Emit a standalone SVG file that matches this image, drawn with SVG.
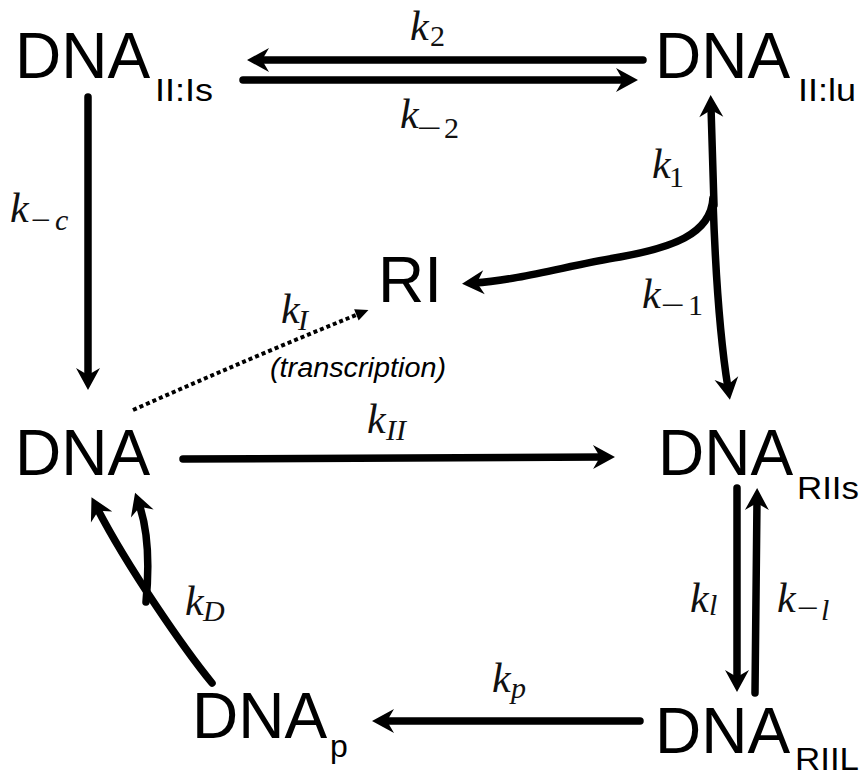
<svg xmlns="http://www.w3.org/2000/svg" width="862" height="777" viewBox="0 0 862 777">
<style>
.big{font-family:"Liberation Sans",Arial,sans-serif;font-size:64px;fill:#000}
.sub{font-family:"Liberation Sans",Arial,sans-serif;font-size:32px;fill:#000}
.k{font-family:"Liberation Serif","Times New Roman",serif;font-style:italic;font-size:42px;fill:#111}
.ks{font-family:"Liberation Serif","Times New Roman",serif;font-style:italic;font-size:30px;fill:#111}
.kn{font-family:"Liberation Serif","Times New Roman",serif;font-size:30px;fill:#111}
.ln{fill:none;stroke:#000;stroke-width:7.5;stroke-linecap:round}
.dot{fill:none;stroke:#000;stroke-width:4;stroke-dasharray:4 3}
.note{font-family:"Liberation Sans",Arial,sans-serif;font-style:italic;font-size:27px;fill:#000}
</style>
<defs>
<marker id="ah" markerUnits="userSpaceOnUse" viewBox="-12 -13 26 26" markerWidth="26" markerHeight="26" refX="0" refY="0" orient="auto"><path d="M12,0 L-10,-12 L-3,0 L-10,12 Z" fill="#000"/></marker>
<marker id="ahs" markerUnits="userSpaceOnUse" viewBox="-8 -8 16 16" markerWidth="16" markerHeight="16" refX="0" refY="0" orient="auto"><path d="M8,0 L-5,-6 L-5,6 Z" fill="#000"/></marker>
</defs>
<g id="connectors">
<path class="ln" d="M643 60 L259 60" marker-end="url(#ah)"/>
<path class="ln" d="M243 80 L626 80" marker-end="url(#ah)"/>
<path class="ln" d="M88 97 L88 378" marker-end="url(#ah)"/>
<path class="ln" d="M183 459 L603 457" marker-end="url(#ah)"/>
<path class="ln" d="M640 721 L384 721" marker-end="url(#ah)"/>
<path class="ln" d="M737 488 L737 680" marker-end="url(#ah)"/>
<path class="ln" d="M755 693 L757 500" marker-end="url(#ah)"/>
<path class="ln" d="M714 205 L711 107" marker-end="url(#ah)"/>
<path class="ln" d="M713 200 Q717 320 728 388" marker-end="url(#ah)"/>
<path class="ln" d="M713 198 C711 235 670 248 620 257 C570 265 520 280 474 283" marker-end="url(#ah)"/>
<path class="dot" d="M133 410 Q250 358 361 313" marker-end="url(#ahs)"/>
<path class="ln" d="M212 683 C185 650 128 568 97 508" marker-end="url(#ah)"/>
<path class="ln" d="M146 602 C150 560 148 530 139 504" marker-end="url(#ah)"/>
</g>
<g id="labels">
<text class="k" x="410" y="40">k</text><text class="kn" x="430" y="46">2</text>
<text class="k" x="400" y="128">k</text><text class="kn" x="417" y="138" textLength="25" lengthAdjust="spacingAndGlyphs">−</text><text class="kn" x="444" y="138">2</text>
<text class="k" x="10" y="222">k</text><text class="kn" x="31" y="230" textLength="20" lengthAdjust="spacingAndGlyphs">−</text><text class="ks" x="55" y="230">c</text>
<text class="k" x="652" y="178">k</text><text class="kn" x="669" y="187">1</text>
<text class="k" x="642" y="308">k</text><text class="kn" x="661" y="315" textLength="24" lengthAdjust="spacingAndGlyphs">−</text><text class="kn" x="688" y="315">1</text>
<text class="k" x="281" y="323">k</text><text class="ks" x="298" y="330">I</text>
<text class="note" x="270" y="377" textLength="176" lengthAdjust="spacingAndGlyphs">(transcription)</text>
<text class="k" x="367" y="433">k</text><text class="ks" x="386" y="440">II</text>
<text class="k" x="185" y="615">k</text><text class="ks" x="203" y="621">D</text>
<text class="k" x="690" y="612">k</text><text class="ks" x="709" y="615">l</text>
<text class="k" x="777" y="612">k</text><text class="kn" x="797" y="618" textLength="22" lengthAdjust="spacingAndGlyphs">−</text><text class="ks" x="821" y="620">l</text>
<text class="k" x="492" y="692">k</text><text class="ks" x="511" y="698">p</text>
</g>
<g id="n-dna-iils"><text class="big" x="15" y="78">DNA</text><text class="sub" x="155" y="101" textLength="58" lengthAdjust="spacingAndGlyphs">II:Is</text></g>
<g id="n-dna-iilu"><text class="big" x="655" y="78">DNA</text><text class="sub" x="798" y="101" textLength="58" lengthAdjust="spacingAndGlyphs">II:lu</text></g>
<g id="n-ri"><text class="big" x="378" y="302">RI</text></g>
<g id="n-dna"><text class="big" x="15" y="475">DNA</text></g>
<g id="n-dna-riis"><text class="big" x="658" y="475">DNA</text><text class="sub" x="797" y="499" textLength="62" lengthAdjust="spacingAndGlyphs">RIIs</text></g>
<g id="n-dna-p"><text class="big" x="192" y="738">DNA</text><text class="sub" x="330" y="757">p</text></g>
<g id="n-dna-riil"><text class="big" x="655" y="753">DNA</text><text class="sub" x="795" y="770" textLength="64" lengthAdjust="spacingAndGlyphs">RIIL</text></g>
</svg>
